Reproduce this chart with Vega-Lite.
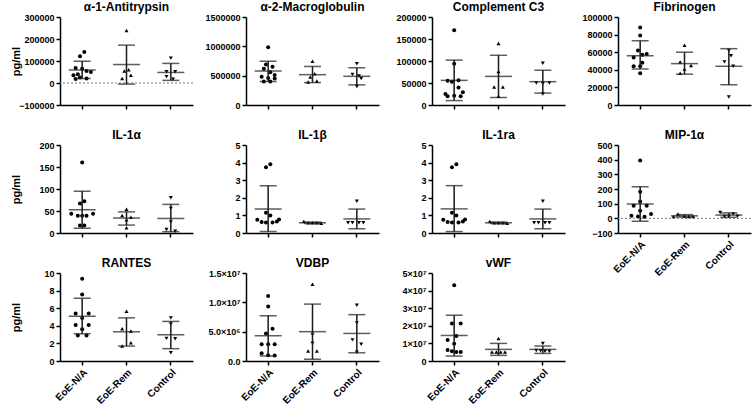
{
"$schema":"https://vega.github.io/schema/vega-lite/v6.json",
"padding":{"left":9,"top":1,"right":0,"bottom":0},
"background":"white",
"data":{"values":[
{"a":"A1","g":"EoE-N/A","id":7,"v":141000},{"a":"A1","g":"EoE-N/A","id":5,"v":122000},{"a":"A1","g":"EoE-N/A","id":3,"v":68000},{"a":"A1","g":"EoE-N/A","id":6,"v":65000},{"a":"A1","g":"EoE-N/A","id":8,"v":55000},{"a":"A1","g":"EoE-N/A","id":10,"v":50000},{"a":"A1","g":"EoE-N/A","id":4,"v":40000},{"a":"A1","g":"EoE-N/A","id":2,"v":35000},{"a":"A1","g":"EoE-N/A","id":5,"v":25000},{"a":"A1","g":"EoE-N/A","id":8,"v":20000},{"a":"A1","g":"EoE-N/A","id":3,"v":18000},
{"a":"A1","g":"EoE-Rem","id":6,"v":239000},{"a":"A1","g":"EoE-Rem","id":7,"v":60000},{"a":"A1","g":"EoE-Rem","id":5,"v":55000},{"a":"A1","g":"EoE-Rem","id":8,"v":35000},{"a":"A1","g":"EoE-Rem","id":4,"v":20000},
{"a":"A1","g":"Control","id":6,"v":113000},{"a":"A1","g":"Control","id":4,"v":51000},{"a":"A1","g":"Control","id":8,"v":51000},{"a":"A1","g":"Control","id":4,"v":29000},{"a":"A1","g":"Control","id":7,"v":17000},
{"a":"A1","g":"EoE-N/A","m":59000,"lo":20000,"hi":99000},{"a":"A1","g":"EoE-Rem","m":84000,"lo":-5000,"hi":172000},{"a":"A1","g":"Control","m":48000,"lo":12000,"hi":89000},

{"a":"A2","g":"EoE-N/A","id":6,"v":983000},{"a":"A2","g":"EoE-N/A","id":5,"v":690000},{"a":"A2","g":"EoE-N/A","id":8,"v":650000},{"a":"A2","g":"EoE-N/A","id":4,"v":620000},{"a":"A2","g":"EoE-N/A","id":7,"v":560000},{"a":"A2","g":"EoE-N/A","id":9,"v":510000},{"a":"A2","g":"EoE-N/A","id":3,"v":480000},{"a":"A2","g":"EoE-N/A","id":6,"v":460000},{"a":"A2","g":"EoE-N/A","id":9,"v":450000},{"a":"A2","g":"EoE-N/A","id":4,"v":400000},{"a":"A2","g":"EoE-N/A","id":7,"v":400000},
{"a":"A2","g":"EoE-Rem","id":6,"v":747000},{"a":"A2","g":"EoE-Rem","id":7,"v":534000},{"a":"A2","g":"EoE-Rem","id":5,"v":478000},{"a":"A2","g":"EoE-Rem","id":8,"v":410000},{"a":"A2","g":"EoE-Rem","id":4,"v":393000},
{"a":"A2","g":"Control","id":6,"v":702000},{"a":"A2","g":"Control","id":4,"v":522000},{"a":"A2","g":"Control","id":7,"v":495000},{"a":"A2","g":"Control","id":8,"v":450000},{"a":"A2","g":"Control","id":6,"v":315000},
{"a":"A2","g":"EoE-N/A","m":579000,"lo":399000,"hi":747000},{"a":"A2","g":"EoE-Rem","m":517000,"lo":382000,"hi":657000},{"a":"A2","g":"Control","m":489000,"lo":343000,"hi":635000},

{"a":"C3","g":"EoE-N/A","id":6,"v":170000},{"a":"C3","g":"EoE-N/A","id":6,"v":94000},{"a":"C3","g":"EoE-N/A","id":8,"v":56000},{"a":"C3","g":"EoE-N/A","id":3,"v":55000},{"a":"C3","g":"EoE-N/A","id":5,"v":53000},{"a":"C3","g":"EoE-N/A","id":8,"v":40000},{"a":"C3","g":"EoE-N/A","id":10,"v":29000},{"a":"C3","g":"EoE-N/A","id":2,"v":25000},{"a":"C3","g":"EoE-N/A","id":6,"v":21000},{"a":"C3","g":"EoE-N/A","id":3,"v":20000},{"a":"C3","g":"EoE-N/A","id":9,"v":20000},
{"a":"C3","g":"EoE-Rem","id":6,"v":140000},{"a":"C3","g":"EoE-Rem","id":6,"v":76000},{"a":"C3","g":"EoE-Rem","id":4,"v":41000},{"a":"C3","g":"EoE-Rem","id":8,"v":41000},{"a":"C3","g":"EoE-Rem","id":6,"v":20000},
{"a":"C3","g":"Control","id":6,"v":95000},{"a":"C3","g":"Control","id":3,"v":50000},{"a":"C3","g":"Control","id":6,"v":49000},{"a":"C3","g":"Control","id":9,"v":50000},{"a":"C3","g":"Control","id":6,"v":25000},
{"a":"C3","g":"EoE-N/A","m":56000,"lo":10000,"hi":102000},{"a":"C3","g":"EoE-Rem","m":65000,"lo":17000,"hi":113000},{"a":"C3","g":"Control","m":53000,"lo":27000,"hi":79000},

{"a":"FB","g":"EoE-N/A","id":6,"v":88000},{"a":"FB","g":"EoE-N/A","id":6,"v":79000},{"a":"FB","g":"EoE-N/A","id":5,"v":62000},{"a":"FB","g":"EoE-N/A","id":9,"v":58000},{"a":"FB","g":"EoE-N/A","id":7,"v":57000},{"a":"FB","g":"EoE-N/A","id":3,"v":54000},{"a":"FB","g":"EoE-N/A","id":7,"v":48000},{"a":"FB","g":"EoE-N/A","id":3,"v":44000},{"a":"FB","g":"EoE-N/A","id":6,"v":44000},{"a":"FB","g":"EoE-N/A","id":6,"v":36000},
{"a":"FB","g":"EoE-Rem","id":6,"v":68000},{"a":"FB","g":"EoE-Rem","id":4,"v":49000},{"a":"FB","g":"EoE-Rem","id":9,"v":45000},{"a":"FB","g":"EoE-Rem","id":6,"v":41000},{"a":"FB","g":"EoE-Rem","id":4,"v":36000},
{"a":"FB","g":"Control","id":6,"v":62000},{"a":"FB","g":"Control","id":7,"v":56000},{"a":"FB","g":"Control","id":4,"v":49000},{"a":"FB","g":"Control","id":8,"v":44000},{"a":"FB","g":"Control","id":6,"v":9000},
{"a":"FB","g":"EoE-N/A","m":56000,"lo":41000,"hi":73000},{"a":"FB","g":"EoE-Rem","m":47000,"lo":35000,"hi":60000},{"a":"FB","g":"Control","m":44000,"lo":23000,"hi":64000},

{"a":"IL1a","g":"EoE-N/A","id":6,"v":160},{"a":"IL1a","g":"EoE-N/A","id":7,"v":72},{"a":"IL1a","g":"EoE-N/A","id":5,"v":67},{"a":"IL1a","g":"EoE-N/A","id":1,"v":44},{"a":"IL1a","g":"EoE-N/A","id":4,"v":39},{"a":"IL1a","g":"EoE-N/A","id":6,"v":39},{"a":"IL1a","g":"EoE-N/A","id":8,"v":39},{"a":"IL1a","g":"EoE-N/A","id":11,"v":44},{"a":"IL1a","g":"EoE-N/A","id":5,"v":17},{"a":"IL1a","g":"EoE-N/A","id":7,"v":17},
{"a":"IL1a","g":"EoE-Rem","id":6,"v":54},{"a":"IL1a","g":"EoE-Rem","id":4,"v":40},{"a":"IL1a","g":"EoE-Rem","id":8,"v":36},{"a":"IL1a","g":"EoE-Rem","id":6,"v":30},{"a":"IL1a","g":"EoE-Rem","id":6,"v":12},
{"a":"IL1a","g":"Control","id":6,"v":80},{"a":"IL1a","g":"Control","id":6,"v":56},{"a":"IL1a","g":"Control","id":6,"v":25},{"a":"IL1a","g":"Control","id":4,"v":8},{"a":"IL1a","g":"Control","id":8,"v":4},
{"a":"IL1a","g":"EoE-N/A","m":53,"lo":11,"hi":95},{"a":"IL1a","g":"EoE-Rem","m":34,"lo":18,"hi":48},{"a":"IL1a","g":"Control","m":33,"lo":3,"hi":65},

{"a":"IL1b","g":"EoE-N/A","id":7,"v":3.9},{"a":"IL1b","g":"EoE-N/A","id":5,"v":3.73},{"a":"IL1b","g":"EoE-N/A","id":5,"v":1.15},{"a":"IL1b","g":"EoE-N/A","id":7,"v":1.0},{"a":"IL1b","g":"EoE-N/A","id":1,"v":0.75},{"a":"IL1b","g":"EoE-N/A","id":3,"v":0.62},{"a":"IL1b","g":"EoE-N/A","id":5,"v":0.6},{"a":"IL1b","g":"EoE-N/A","id":8,"v":0.6},{"a":"IL1b","g":"EoE-N/A","id":10,"v":0.65},{"a":"IL1b","g":"EoE-N/A","id":11,"v":0.77},
{"a":"IL1b","g":"EoE-Rem","id":2,"v":0.66},{"a":"IL1b","g":"EoE-Rem","id":4,"v":0.58},{"a":"IL1b","g":"EoE-Rem","id":6,"v":0.58},{"a":"IL1b","g":"EoE-Rem","id":8,"v":0.58},{"a":"IL1b","g":"EoE-Rem","id":10,"v":0.55},
{"a":"IL1b","g":"Control","id":6,"v":1.8},{"a":"IL1b","g":"Control","id":2,"v":0.58},{"a":"IL1b","g":"Control","id":4,"v":0.58},{"a":"IL1b","g":"Control","id":7,"v":0.58},{"a":"IL1b","g":"Control","id":9,"v":0.58},
{"a":"IL1b","g":"EoE-N/A","m":1.37,"lo":0.08,"hi":2.69},{"a":"IL1b","g":"EoE-Rem","m":0.58,"lo":0.54,"hi":0.62},{"a":"IL1b","g":"Control","m":0.8,"lo":0.24,"hi":1.36},

{"a":"IL1ra","g":"EoE-N/A","id":7,"v":3.9},{"a":"IL1ra","g":"EoE-N/A","id":5,"v":3.73},{"a":"IL1ra","g":"EoE-N/A","id":5,"v":1.15},{"a":"IL1ra","g":"EoE-N/A","id":7,"v":1.0},{"a":"IL1ra","g":"EoE-N/A","id":1,"v":0.75},{"a":"IL1ra","g":"EoE-N/A","id":3,"v":0.62},{"a":"IL1ra","g":"EoE-N/A","id":5,"v":0.6},{"a":"IL1ra","g":"EoE-N/A","id":8,"v":0.6},{"a":"IL1ra","g":"EoE-N/A","id":10,"v":0.65},{"a":"IL1ra","g":"EoE-N/A","id":11,"v":0.77},
{"a":"IL1ra","g":"EoE-Rem","id":2,"v":0.66},{"a":"IL1ra","g":"EoE-Rem","id":4,"v":0.58},{"a":"IL1ra","g":"EoE-Rem","id":6,"v":0.58},{"a":"IL1ra","g":"EoE-Rem","id":8,"v":0.58},{"a":"IL1ra","g":"EoE-Rem","id":10,"v":0.55},
{"a":"IL1ra","g":"Control","id":6,"v":1.8},{"a":"IL1ra","g":"Control","id":2,"v":0.58},{"a":"IL1ra","g":"Control","id":4,"v":0.58},{"a":"IL1ra","g":"Control","id":7,"v":0.58},{"a":"IL1ra","g":"Control","id":9,"v":0.58},
{"a":"IL1ra","g":"EoE-N/A","m":1.37,"lo":0.08,"hi":2.69},{"a":"IL1ra","g":"EoE-Rem","m":0.58,"lo":0.54,"hi":0.62},{"a":"IL1ra","g":"Control","m":0.8,"lo":0.24,"hi":1.36},

{"a":"MIP","g":"EoE-N/A","id":6,"v":395},{"a":"MIP","g":"EoE-N/A","id":6,"v":182},{"a":"MIP","g":"EoE-N/A","id":6,"v":115},{"a":"MIP","g":"EoE-N/A","id":3,"v":85},{"a":"MIP","g":"EoE-N/A","id":9,"v":85},{"a":"MIP","g":"EoE-N/A","id":6,"v":52},{"a":"MIP","g":"EoE-N/A","id":11,"v":29},{"a":"MIP","g":"EoE-N/A","id":2,"v":18},{"a":"MIP","g":"EoE-N/A","id":5,"v":13},{"a":"MIP","g":"EoE-N/A","id":8,"v":11},
{"a":"MIP","g":"EoE-Rem","id":3,"v":29},{"a":"MIP","g":"EoE-Rem","id":6,"v":14},{"a":"MIP","g":"EoE-Rem","id":1,"v":13},{"a":"MIP","g":"EoE-Rem","id":8,"v":13},{"a":"MIP","g":"EoE-Rem","id":10,"v":12},
{"a":"MIP","g":"Control","id":2,"v":40},{"a":"MIP","g":"Control","id":8,"v":30},{"a":"MIP","g":"Control","id":10,"v":15},{"a":"MIP","g":"Control","id":4,"v":13},{"a":"MIP","g":"Control","id":6,"v":12},
{"a":"MIP","g":"EoE-N/A","m":97,"lo":-20,"hi":216},{"a":"MIP","g":"EoE-Rem","m":17,"lo":9,"hi":25},{"a":"MIP","g":"Control","m":22,"lo":7,"hi":37},

{"a":"RANTES","g":"EoE-N/A","id":6,"v":9.36},{"a":"RANTES","g":"EoE-N/A","id":6,"v":7.55},{"a":"RANTES","g":"EoE-N/A","id":3,"v":5.4},{"a":"RANTES","g":"EoE-N/A","id":9,"v":5.4},{"a":"RANTES","g":"EoE-N/A","id":6,"v":4.9},{"a":"RANTES","g":"EoE-N/A","id":3,"v":4.08},{"a":"RANTES","g":"EoE-N/A","id":9,"v":4.08},{"a":"RANTES","g":"EoE-N/A","id":6,"v":3.6},{"a":"RANTES","g":"EoE-N/A","id":4,"v":2.9},{"a":"RANTES","g":"EoE-N/A","id":8,"v":2.9},
{"a":"RANTES","g":"EoE-Rem","id":6,"v":5.66},{"a":"RANTES","g":"EoE-Rem","id":4,"v":3.66},{"a":"RANTES","g":"EoE-Rem","id":8,"v":3.4},{"a":"RANTES","g":"EoE-Rem","id":8,"v":2.08},{"a":"RANTES","g":"EoE-Rem","id":4,"v":1.7},
{"a":"RANTES","g":"Control","id":6,"v":4.9},{"a":"RANTES","g":"Control","id":6,"v":4.2},{"a":"RANTES","g":"Control","id":4,"v":2.57},{"a":"RANTES","g":"Control","id":8,"v":2.53},{"a":"RANTES","g":"Control","id":6,"v":0.94},
{"a":"RANTES","g":"EoE-N/A","m":5.09,"lo":3.09,"hi":7.13},{"a":"RANTES","g":"EoE-Rem","m":3.32,"lo":1.7,"hi":4.9},{"a":"RANTES","g":"Control","m":2.98,"lo":1.4,"hi":4.5},

{"a":"VDBP","g":"EoE-N/A","id":6,"v":11100000},{"a":"VDBP","g":"EoE-N/A","id":6,"v":9300000},{"a":"VDBP","g":"EoE-N/A","id":8,"v":5500000},{"a":"VDBP","g":"EoE-N/A","id":5,"v":4700000},{"a":"VDBP","g":"EoE-N/A","id":3,"v":2850000},{"a":"VDBP","g":"EoE-N/A","id":6,"v":2850000},{"a":"VDBP","g":"EoE-N/A","id":9,"v":2850000},{"a":"VDBP","g":"EoE-N/A","id":3,"v":1300000},{"a":"VDBP","g":"EoE-N/A","id":6,"v":1000000},{"a":"VDBP","g":"EoE-N/A","id":9,"v":950000},
{"a":"VDBP","g":"EoE-Rem","id":6,"v":13100000},{"a":"VDBP","g":"EoE-Rem","id":6,"v":4800000},{"a":"VDBP","g":"EoE-Rem","id":6,"v":3300000},{"a":"VDBP","g":"EoE-Rem","id":4,"v":1700000},{"a":"VDBP","g":"EoE-Rem","id":8,"v":1700000},
{"a":"VDBP","g":"Control","id":6,"v":9500000},{"a":"VDBP","g":"Control","id":6,"v":6500000},{"a":"VDBP","g":"Control","id":4,"v":3600000},{"a":"VDBP","g":"Control","id":8,"v":2850000},{"a":"VDBP","g":"Control","id":6,"v":1500000},
{"a":"VDBP","g":"EoE-N/A","m":4300000,"lo":850000,"hi":7700000},{"a":"VDBP","g":"EoE-Rem","m":5000000,"lo":300000,"hi":9700000},{"a":"VDBP","g":"Control","m":4700000,"lo":1400000,"hi":7900000},

{"a":"vWF","g":"EoE-N/A","id":6,"v":43000000},{"a":"vWF","g":"EoE-N/A","id":5,"v":21300000},{"a":"vWF","g":"EoE-N/A","id":9,"v":21300000},{"a":"vWF","g":"EoE-N/A","id":7,"v":14200000},{"a":"vWF","g":"EoE-N/A","id":3,"v":11900000},{"a":"vWF","g":"EoE-N/A","id":6,"v":9800000},{"a":"vWF","g":"EoE-N/A","id":3,"v":6200000},{"a":"vWF","g":"EoE-N/A","id":5,"v":5500000},{"a":"vWF","g":"EoE-N/A","id":7,"v":5100000},{"a":"vWF","g":"EoE-N/A","id":9,"v":5100000},
{"a":"vWF","g":"EoE-Rem","id":6,"v":12800000},{"a":"vWF","g":"EoE-Rem","id":3,"v":5100000},{"a":"vWF","g":"EoE-Rem","id":5,"v":5100000},{"a":"vWF","g":"EoE-Rem","id":7,"v":5100000},{"a":"vWF","g":"EoE-Rem","id":9,"v":5100000},
{"a":"vWF","g":"Control","id":6,"v":10000000},{"a":"vWF","g":"Control","id":3,"v":6000000},{"a":"vWF","g":"Control","id":5,"v":5800000},{"a":"vWF","g":"Control","id":7,"v":5600000},{"a":"vWF","g":"Control","id":9,"v":5500000},
{"a":"vWF","g":"EoE-N/A","m":14500000,"lo":2800000,"hi":26000000},{"a":"vWF","g":"EoE-Rem","m":6600000,"lo":3200000,"hi":10000000},{"a":"vWF","g":"Control","m":6600000,"lo":4300000,"hi":8500000}
]},
"columns":4,
"spacing":{"row":40,"column":53},
"bounds":"flush",
"concat":[
{"title":"α-1-Antitrypsin","width":133,"height":88,"transform":[{"filter":{"field":"a","equal":"A1"}}],"layer":[
 {"transform":[{"filter":"isValid(datum.v)"}],"mark":{"type":"point","filled":true,"size":16,"color":"#000","opacity":1},"encoding":{
  "x":{"field":"g","type":"nominal","sort":null,"scale":{"domain":["EoE-N/A","EoE-Rem","Control"],"paddingInner":0.46,"paddingOuter":0.23},"axis":{"title":null,"labels":false,"bandPosition":0.5}},
  "xOffset":{"field":"id","type":"nominal","scale":{"domain":[1,2,3,4,5,6,7,8,9,10,11]}},
  "y":{"field":"v","type":"quantitative","title":"pg/ml","scale":{"domain":[-100000,300000],"nice":false,"zero":false},"axis":{"values":[-100000,0,100000,200000,300000],"tickCount":20,"format":"d"}},
  "shape":{"field":"g","type":"nominal","scale":{"domain":["EoE-N/A","EoE-Rem","Control"],"range":["circle","triangle-up","triangle-down"]},"legend":null}}},
 {"data":{"values":[{"a":"A1"}]},"mark":{"type":"rule","strokeDash":[2,2],"color":"#777","strokeWidth":1},"encoding":{"y":{"datum":0}}},
 {"transform":[{"filter":"isValid(datum.m)"}],"mark":{"type":"tick","orient":"horizontal","size":27,"thickness":1.5,"color":"#1a1a1a"},"encoding":{"x":{"field":"g","type":"nominal","sort":null,"title":null},"y":{"field":"m","type":"quantitative","title":"pg/ml"}}},
 {"transform":[{"filter":"isValid(datum.m)"}],"mark":{"type":"errorbar","ticks":{"size":17,"thickness":1.5,"color":"#1a1a1a"},"rule":{"strokeWidth":1.5,"color":"#1a1a1a"}},"encoding":{"x":{"field":"g","type":"nominal","sort":null,"title":null},"y":{"field":"lo","type":"quantitative","title":"pg/ml"},"y2":{"field":"hi"}}}
]},
{"title":"α-2-Macroglobulin","width":133,"height":88,"transform":[{"filter":{"field":"a","equal":"A2"}}],"layer":[
 {"transform":[{"filter":"isValid(datum.v)"}],"mark":{"type":"point","filled":true,"size":16,"color":"#000","opacity":1},"encoding":{
  "x":{"field":"g","type":"nominal","sort":null,"scale":{"domain":["EoE-N/A","EoE-Rem","Control"],"paddingInner":0.46,"paddingOuter":0.23},"axis":{"title":null,"labels":false,"bandPosition":0.5}},
  "xOffset":{"field":"id","type":"nominal","scale":{"domain":[1,2,3,4,5,6,7,8,9,10,11]}},
  "y":{"field":"v","type":"quantitative","title":null,"scale":{"domain":[0,1500000],"nice":false,"zero":false},"axis":{"values":[0,500000,1000000,1500000],"tickCount":20,"format":"d"}},
  "shape":{"field":"g","type":"nominal","scale":{"domain":["EoE-N/A","EoE-Rem","Control"],"range":["circle","triangle-up","triangle-down"]},"legend":null}}},
 {"transform":[{"filter":"isValid(datum.m)"}],"mark":{"type":"tick","orient":"horizontal","size":27,"thickness":1.5,"color":"#1a1a1a"},"encoding":{"x":{"field":"g","type":"nominal","sort":null,"title":null},"y":{"field":"m","type":"quantitative","title":null}}},
 {"transform":[{"filter":"isValid(datum.m)"}],"mark":{"type":"errorbar","ticks":{"size":17,"thickness":1.5,"color":"#1a1a1a"},"rule":{"strokeWidth":1.5,"color":"#1a1a1a"}},"encoding":{"x":{"field":"g","type":"nominal","sort":null,"title":null},"y":{"field":"lo","type":"quantitative","title":null},"y2":{"field":"hi"}}}
]},
{"title":"Complement C3","width":133,"height":88,"transform":[{"filter":{"field":"a","equal":"C3"}}],"layer":[
 {"transform":[{"filter":"isValid(datum.v)"}],"mark":{"type":"point","filled":true,"size":16,"color":"#000","opacity":1},"encoding":{
  "x":{"field":"g","type":"nominal","sort":null,"scale":{"domain":["EoE-N/A","EoE-Rem","Control"],"paddingInner":0.46,"paddingOuter":0.23},"axis":{"title":null,"labels":false,"bandPosition":0.5}},
  "xOffset":{"field":"id","type":"nominal","scale":{"domain":[1,2,3,4,5,6,7,8,9,10,11]}},
  "y":{"field":"v","type":"quantitative","title":null,"scale":{"domain":[0,200000],"nice":false,"zero":false},"axis":{"values":[0,50000,100000,150000,200000],"tickCount":20,"format":"d"}},
  "shape":{"field":"g","type":"nominal","scale":{"domain":["EoE-N/A","EoE-Rem","Control"],"range":["circle","triangle-up","triangle-down"]},"legend":null}}},
 {"transform":[{"filter":"isValid(datum.m)"}],"mark":{"type":"tick","orient":"horizontal","size":27,"thickness":1.5,"color":"#1a1a1a"},"encoding":{"x":{"field":"g","type":"nominal","sort":null,"title":null},"y":{"field":"m","type":"quantitative","title":null}}},
 {"transform":[{"filter":"isValid(datum.m)"}],"mark":{"type":"errorbar","ticks":{"size":17,"thickness":1.5,"color":"#1a1a1a"},"rule":{"strokeWidth":1.5,"color":"#1a1a1a"}},"encoding":{"x":{"field":"g","type":"nominal","sort":null,"title":null},"y":{"field":"lo","type":"quantitative","title":null},"y2":{"field":"hi"}}}
]},
{"title":"Fibrinogen","width":133,"height":88,"transform":[{"filter":{"field":"a","equal":"FB"}}],"layer":[
 {"transform":[{"filter":"isValid(datum.v)"}],"mark":{"type":"point","filled":true,"size":16,"color":"#000","opacity":1},"encoding":{
  "x":{"field":"g","type":"nominal","sort":null,"scale":{"domain":["EoE-N/A","EoE-Rem","Control"],"paddingInner":0.46,"paddingOuter":0.23},"axis":{"title":null,"labels":false,"bandPosition":0.5}},
  "xOffset":{"field":"id","type":"nominal","scale":{"domain":[1,2,3,4,5,6,7,8,9,10,11]}},
  "y":{"field":"v","type":"quantitative","title":null,"scale":{"domain":[0,100000],"nice":false,"zero":false},"axis":{"values":[0,20000,40000,60000,80000,100000],"tickCount":20,"format":"d"}},
  "shape":{"field":"g","type":"nominal","scale":{"domain":["EoE-N/A","EoE-Rem","Control"],"range":["circle","triangle-up","triangle-down"]},"legend":null}}},
 {"transform":[{"filter":"isValid(datum.m)"}],"mark":{"type":"tick","orient":"horizontal","size":27,"thickness":1.5,"color":"#1a1a1a"},"encoding":{"x":{"field":"g","type":"nominal","sort":null,"title":null},"y":{"field":"m","type":"quantitative","title":null}}},
 {"transform":[{"filter":"isValid(datum.m)"}],"mark":{"type":"errorbar","ticks":{"size":17,"thickness":1.5,"color":"#1a1a1a"},"rule":{"strokeWidth":1.5,"color":"#1a1a1a"}},"encoding":{"x":{"field":"g","type":"nominal","sort":null,"title":null},"y":{"field":"lo","type":"quantitative","title":null},"y2":{"field":"hi"}}}
]},
{"title":"IL-1α","width":133,"height":88,"transform":[{"filter":{"field":"a","equal":"IL1a"}}],"layer":[
 {"transform":[{"filter":"isValid(datum.v)"}],"mark":{"type":"point","filled":true,"size":16,"color":"#000","opacity":1},"encoding":{
  "x":{"field":"g","type":"nominal","sort":null,"scale":{"domain":["EoE-N/A","EoE-Rem","Control"],"paddingInner":0.46,"paddingOuter":0.23},"axis":{"title":null,"labels":false,"bandPosition":0.5}},
  "xOffset":{"field":"id","type":"nominal","scale":{"domain":[1,2,3,4,5,6,7,8,9,10,11]}},
  "y":{"field":"v","type":"quantitative","title":"pg/ml","scale":{"domain":[0,200],"nice":false,"zero":false},"axis":{"values":[0,50,100,150,200],"tickCount":20,"format":"d"}},
  "shape":{"field":"g","type":"nominal","scale":{"domain":["EoE-N/A","EoE-Rem","Control"],"range":["circle","triangle-up","triangle-down"]},"legend":null}}},
 {"transform":[{"filter":"isValid(datum.m)"}],"mark":{"type":"tick","orient":"horizontal","size":27,"thickness":1.5,"color":"#1a1a1a"},"encoding":{"x":{"field":"g","type":"nominal","sort":null,"title":null},"y":{"field":"m","type":"quantitative","title":"pg/ml"}}},
 {"transform":[{"filter":"isValid(datum.m)"}],"mark":{"type":"errorbar","ticks":{"size":17,"thickness":1.5,"color":"#1a1a1a"},"rule":{"strokeWidth":1.5,"color":"#1a1a1a"}},"encoding":{"x":{"field":"g","type":"nominal","sort":null,"title":null},"y":{"field":"lo","type":"quantitative","title":"pg/ml"},"y2":{"field":"hi"}}}
]},
{"title":"IL-1β","width":133,"height":88,"transform":[{"filter":{"field":"a","equal":"IL1b"}}],"layer":[
 {"transform":[{"filter":"isValid(datum.v)"}],"mark":{"type":"point","filled":true,"size":16,"color":"#000","opacity":1},"encoding":{
  "x":{"field":"g","type":"nominal","sort":null,"scale":{"domain":["EoE-N/A","EoE-Rem","Control"],"paddingInner":0.46,"paddingOuter":0.23},"axis":{"title":null,"labels":false,"bandPosition":0.5}},
  "xOffset":{"field":"id","type":"nominal","scale":{"domain":[1,2,3,4,5,6,7,8,9,10,11]}},
  "y":{"field":"v","type":"quantitative","title":null,"scale":{"domain":[0,5],"nice":false,"zero":false},"axis":{"values":[0,1,2,3,4,5],"tickCount":20,"format":"d"}},
  "shape":{"field":"g","type":"nominal","scale":{"domain":["EoE-N/A","EoE-Rem","Control"],"range":["circle","triangle-up","triangle-down"]},"legend":null}}},
 {"transform":[{"filter":"isValid(datum.m)"}],"mark":{"type":"tick","orient":"horizontal","size":27,"thickness":1.5,"color":"#1a1a1a"},"encoding":{"x":{"field":"g","type":"nominal","sort":null,"title":null},"y":{"field":"m","type":"quantitative","title":null}}},
 {"transform":[{"filter":"isValid(datum.m)"}],"mark":{"type":"errorbar","ticks":{"size":17,"thickness":1.5,"color":"#1a1a1a"},"rule":{"strokeWidth":1.5,"color":"#1a1a1a"}},"encoding":{"x":{"field":"g","type":"nominal","sort":null,"title":null},"y":{"field":"lo","type":"quantitative","title":null},"y2":{"field":"hi"}}}
]},
{"title":"IL-1ra","width":133,"height":88,"transform":[{"filter":{"field":"a","equal":"IL1ra"}}],"layer":[
 {"transform":[{"filter":"isValid(datum.v)"}],"mark":{"type":"point","filled":true,"size":16,"color":"#000","opacity":1},"encoding":{
  "x":{"field":"g","type":"nominal","sort":null,"scale":{"domain":["EoE-N/A","EoE-Rem","Control"],"paddingInner":0.46,"paddingOuter":0.23},"axis":{"title":null,"labels":false,"bandPosition":0.5}},
  "xOffset":{"field":"id","type":"nominal","scale":{"domain":[1,2,3,4,5,6,7,8,9,10,11]}},
  "y":{"field":"v","type":"quantitative","title":null,"scale":{"domain":[0,5],"nice":false,"zero":false},"axis":{"values":[0,1,2,3,4,5],"tickCount":20,"format":"d"}},
  "shape":{"field":"g","type":"nominal","scale":{"domain":["EoE-N/A","EoE-Rem","Control"],"range":["circle","triangle-up","triangle-down"]},"legend":null}}},
 {"transform":[{"filter":"isValid(datum.m)"}],"mark":{"type":"tick","orient":"horizontal","size":27,"thickness":1.5,"color":"#1a1a1a"},"encoding":{"x":{"field":"g","type":"nominal","sort":null,"title":null},"y":{"field":"m","type":"quantitative","title":null}}},
 {"transform":[{"filter":"isValid(datum.m)"}],"mark":{"type":"errorbar","ticks":{"size":17,"thickness":1.5,"color":"#1a1a1a"},"rule":{"strokeWidth":1.5,"color":"#1a1a1a"}},"encoding":{"x":{"field":"g","type":"nominal","sort":null,"title":null},"y":{"field":"lo","type":"quantitative","title":null},"y2":{"field":"hi"}}}
]},
{"title":"MIP-1α","width":133,"height":88,"transform":[{"filter":{"field":"a","equal":"MIP"}}],"layer":[
 {"transform":[{"filter":"isValid(datum.v)"}],"mark":{"type":"point","filled":true,"size":16,"color":"#000","opacity":1},"encoding":{
  "x":{"field":"g","type":"nominal","sort":null,"scale":{"domain":["EoE-N/A","EoE-Rem","Control"],"paddingInner":0.46,"paddingOuter":0.23},"axis":{"title":null,"labelAngle":-45,"bandPosition":0.5}},
  "xOffset":{"field":"id","type":"nominal","scale":{"domain":[1,2,3,4,5,6,7,8,9,10,11]}},
  "y":{"field":"v","type":"quantitative","title":null,"scale":{"domain":[-100,500],"nice":false,"zero":false},"axis":{"values":[-100,0,100,200,300,400,500],"tickCount":20,"format":"d"}},
  "shape":{"field":"g","type":"nominal","scale":{"domain":["EoE-N/A","EoE-Rem","Control"],"range":["circle","triangle-up","triangle-down"]},"legend":null}}},
 {"data":{"values":[{"a":"MIP"}]},"mark":{"type":"rule","strokeDash":[2,2],"color":"#777","strokeWidth":1},"encoding":{"y":{"datum":0}}},
 {"transform":[{"filter":"isValid(datum.m)"}],"mark":{"type":"tick","orient":"horizontal","size":27,"thickness":1.5,"color":"#1a1a1a"},"encoding":{"x":{"field":"g","type":"nominal","sort":null,"title":null},"y":{"field":"m","type":"quantitative","title":null}}},
 {"transform":[{"filter":"isValid(datum.m)"}],"mark":{"type":"errorbar","ticks":{"size":17,"thickness":1.5,"color":"#1a1a1a"},"rule":{"strokeWidth":1.5,"color":"#1a1a1a"}},"encoding":{"x":{"field":"g","type":"nominal","sort":null,"title":null},"y":{"field":"lo","type":"quantitative","title":null},"y2":{"field":"hi"}}}
]},
{"title":"RANTES","width":133,"height":88,"transform":[{"filter":{"field":"a","equal":"RANTES"}}],"layer":[
 {"transform":[{"filter":"isValid(datum.v)"}],"mark":{"type":"point","filled":true,"size":16,"color":"#000","opacity":1},"encoding":{
  "x":{"field":"g","type":"nominal","sort":null,"scale":{"domain":["EoE-N/A","EoE-Rem","Control"],"paddingInner":0.46,"paddingOuter":0.23},"axis":{"title":null,"labelAngle":-45,"bandPosition":0.5}},
  "xOffset":{"field":"id","type":"nominal","scale":{"domain":[1,2,3,4,5,6,7,8,9,10,11]}},
  "y":{"field":"v","type":"quantitative","title":"pg/ml","scale":{"domain":[0,10],"nice":false,"zero":false},"axis":{"values":[0,2,4,6,8,10],"tickCount":20,"format":"d"}},
  "shape":{"field":"g","type":"nominal","scale":{"domain":["EoE-N/A","EoE-Rem","Control"],"range":["circle","triangle-up","triangle-down"]},"legend":null}}},
 {"transform":[{"filter":"isValid(datum.m)"}],"mark":{"type":"tick","orient":"horizontal","size":27,"thickness":1.5,"color":"#1a1a1a"},"encoding":{"x":{"field":"g","type":"nominal","sort":null,"title":null},"y":{"field":"m","type":"quantitative","title":"pg/ml"}}},
 {"transform":[{"filter":"isValid(datum.m)"}],"mark":{"type":"errorbar","ticks":{"size":17,"thickness":1.5,"color":"#1a1a1a"},"rule":{"strokeWidth":1.5,"color":"#1a1a1a"}},"encoding":{"x":{"field":"g","type":"nominal","sort":null,"title":null},"y":{"field":"lo","type":"quantitative","title":"pg/ml"},"y2":{"field":"hi"}}}
]},
{"title":"VDBP","width":133,"height":88,"transform":[{"filter":{"field":"a","equal":"VDBP"}}],"layer":[
 {"transform":[{"filter":"isValid(datum.v)"}],"mark":{"type":"point","filled":true,"size":16,"color":"#000","opacity":1},"encoding":{
  "x":{"field":"g","type":"nominal","sort":null,"scale":{"domain":["EoE-N/A","EoE-Rem","Control"],"paddingInner":0.46,"paddingOuter":0.23},"axis":{"title":null,"labelAngle":-45,"bandPosition":0.5}},
  "xOffset":{"field":"id","type":"nominal","scale":{"domain":[1,2,3,4,5,6,7,8,9,10,11]}},
  "y":{"field":"v","type":"quantitative","title":null,"scale":{"domain":[0,15000000],"nice":false,"zero":false},"axis":{"values":[0,5000000,10000000,15000000],"tickCount":20,"labelExpr":"datum.value==0?'0.0':datum.value==5000000?'5.0×10⁶':datum.value==10000000?'1.0×10⁷':'1.5×10⁷'"}},
  "shape":{"field":"g","type":"nominal","scale":{"domain":["EoE-N/A","EoE-Rem","Control"],"range":["circle","triangle-up","triangle-down"]},"legend":null}}},
 {"transform":[{"filter":"isValid(datum.m)"}],"mark":{"type":"tick","orient":"horizontal","size":27,"thickness":1.5,"color":"#1a1a1a"},"encoding":{"x":{"field":"g","type":"nominal","sort":null,"title":null},"y":{"field":"m","type":"quantitative","title":null}}},
 {"transform":[{"filter":"isValid(datum.m)"}],"mark":{"type":"errorbar","ticks":{"size":17,"thickness":1.5,"color":"#1a1a1a"},"rule":{"strokeWidth":1.5,"color":"#1a1a1a"}},"encoding":{"x":{"field":"g","type":"nominal","sort":null,"title":null},"y":{"field":"lo","type":"quantitative","title":null},"y2":{"field":"hi"}}}
]},
{"title":"vWF","width":133,"height":88,"transform":[{"filter":{"field":"a","equal":"vWF"}}],"layer":[
 {"transform":[{"filter":"isValid(datum.v)"}],"mark":{"type":"point","filled":true,"size":16,"color":"#000","opacity":1},"encoding":{
  "x":{"field":"g","type":"nominal","sort":null,"scale":{"domain":["EoE-N/A","EoE-Rem","Control"],"paddingInner":0.46,"paddingOuter":0.23},"axis":{"title":null,"labelAngle":-45,"bandPosition":0.5}},
  "xOffset":{"field":"id","type":"nominal","scale":{"domain":[1,2,3,4,5,6,7,8,9,10,11]}},
  "y":{"field":"v","type":"quantitative","title":null,"scale":{"domain":[0,50000000],"nice":false,"zero":false},"axis":{"values":[0,10000000,20000000,30000000,40000000,50000000],"tickCount":20,"labelExpr":"datum.value==0?'0':(datum.value/10000000)+'×10⁷'"}},
  "shape":{"field":"g","type":"nominal","scale":{"domain":["EoE-N/A","EoE-Rem","Control"],"range":["circle","triangle-up","triangle-down"]},"legend":null}}},
 {"transform":[{"filter":"isValid(datum.m)"}],"mark":{"type":"tick","orient":"horizontal","size":27,"thickness":1.5,"color":"#1a1a1a"},"encoding":{"x":{"field":"g","type":"nominal","sort":null,"title":null},"y":{"field":"m","type":"quantitative","title":null}}},
 {"transform":[{"filter":"isValid(datum.m)"}],"mark":{"type":"errorbar","ticks":{"size":17,"thickness":1.5,"color":"#1a1a1a"},"rule":{"strokeWidth":1.5,"color":"#1a1a1a"}},"encoding":{"x":{"field":"g","type":"nominal","sort":null,"title":null},"y":{"field":"lo","type":"quantitative","title":null},"y2":{"field":"hi"}}}
]}
],
"config":{
 "view":{"stroke":null},
 "font":"Liberation Sans",
 "title":{"font":"Liberation Sans","fontSize":12,"fontWeight":"bold","color":"#000","offset":-1},
 "axis":{"domainColor":"#000","domainWidth":1.5,"tickColor":"#000","tickWidth":1.5,"tickSize":4,"labelFont":"Liberation Sans","labelFontWeight":"bold","labelFontSize":9,"labelColor":"#000","labelPadding":2,"labelOverlap":false,"grid":false,"titleFont":"Liberation Sans","titleFontWeight":"bold","titleFontSize":11,"titleColor":"#000"},
 "axisX":{"labelFontSize":10,"labelPadding":2},
 "axisY":{"titleX":-44,"titleY":44,"titleAngle":-90,"titleBaseline":"middle","titleAlign":"center"}
}
}
